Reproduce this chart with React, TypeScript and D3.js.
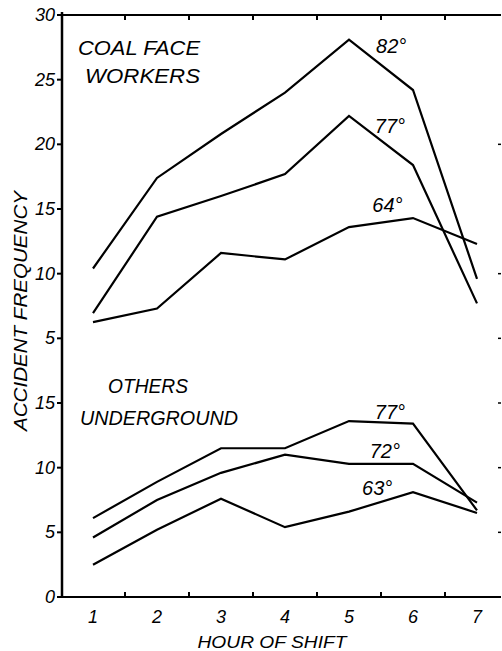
import React from "react";
import * as d3 from "d3";

const hours = [1, 2, 3, 4, 5, 6, 7];

// Upper panel: coal face workers
const coal82 = [10.4, 17.4, 20.8, 24.0, 28.1, 24.2, 9.6];
const coal77 = [6.95, 14.4, 16.0, 17.7, 22.2, 18.4, 7.7];
const coal64 = [6.25, 7.3, 11.6, 11.1, 13.6, 14.3, 12.3];

// Lower panel: others underground
const other77 = [6.1, 8.9, 11.5, 11.5, 13.6, 13.4, 6.7];
const other72 = [4.6, 7.5, 9.6, 11.0, 10.3, 10.3, 7.3];
const other63 = [2.5, 5.2, 7.6, 5.4, 6.6, 8.1, 6.5];

// y tick positions (combined stacked scale) and their printed labels
const yTickPos = [0, 5, 10, 15, 20, 25, 30, 35, 40, 45];
const yTickLabels = ["0", "5", "10", "15", "5", "10", "15", "20", "25", "30"];
const rightTickPos = [5, 10, 15, 20, 25, 35];
const xMidTicks = [1.5, 2.5, 3.5, 4.5, 5.5, 6.5];

const upperOffset = 15;

const seriesUpper = [
  { label: "82°", values: coal82, lx: 5.66, ly: 27.1 },
  { label: "77°", values: coal77, lx: 5.64, ly: 20.9 },
  { label: "64°", values: coal64, lx: 5.6, ly: 14.8 },
];
const seriesLower = [
  { label: "77°", values: other77, lx: 5.64, ly: 13.8 },
  { label: "72°", values: other72, lx: 5.56, ly: 10.75 },
  { label: "63°", values: other63, lx: 5.44, ly: 7.9 },
];

export default function App() {
  const W = 502;
  const H = 651;
  const x = d3.scaleLinear().domain([1, 7]).range([93, 477]);
  const y = d3.scaleLinear().domain([0, 45]).range([597, 15]);
  const left = 62;
  const right = 501;
  const top = y(45);
  const bottom = y(0);

  const line = (offset: number) =>
    d3
      .line<number>()
      .x((_, i) => x(hours[i]))
      .y((d) => y(d + offset));

  const font = "'Liberation Sans', 'DejaVu Sans', sans-serif";

  return (
    <svg
      width={W}
      height={H}
      style={{ position: "absolute", left: 0, top: 0, background: "#fff" }}
      fontFamily={font}
      fontStyle="italic"
    >
      <rect x={0} y={0} width={W} height={H} fill="#fff" />
      {/* axes */}
      <line x1={left} y1={top - 3} x2={left} y2={bottom + 1} stroke="#000" strokeWidth={2.5} />
      <line x1={left} y1={top} x2={right} y2={top} stroke="#000" strokeWidth={2} />
      <line x1={left} y1={bottom} x2={right} y2={bottom} stroke="#000" strokeWidth={2} />
      {/* left ticks */}
      {yTickPos.map((p, i) => (
        <g key={"yt" + i}>
          <line x1={left - 5} x2={left} y1={y(p)} y2={y(p)} stroke="#000" strokeWidth={2} />
          <text
            x={left - 7}
            y={y(p) + 6}
            textAnchor="end"
            fontSize={18}
            fill="#000"
          >
            {yTickLabels[i]}
          </text>
        </g>
      ))}
      {/* right tiny ticks */}
      {rightTickPos.map((p, i) => (
        <line key={"rt" + i} x1={right - 3} x2={right} y1={y(p)} y2={y(p)} stroke="#000" strokeWidth={1.5} />
      ))}
      {/* top and bottom mid ticks */}
      {xMidTicks.map((h, i) => (
        <g key={"xt" + i}>
          <line x1={x(h)} x2={x(h)} y1={top} y2={top + 5} stroke="#000" strokeWidth={2} />
          <line x1={x(h)} x2={x(h)} y1={bottom} y2={bottom - 5} stroke="#000" strokeWidth={2} />
        </g>
      ))}
      {/* x labels */}
      {hours.map((h) => (
        <text key={"xl" + h} x={x(h)} y={623} textAnchor="middle" fontSize={18} fill="#000">
          {h}
        </text>
      ))}
      <text x={272} y={648} textAnchor="middle" fontSize={17} textLength={149} lengthAdjust="spacingAndGlyphs" fill="#000">
        HOUR OF SHIFT
      </text>
      <text
        transform={`translate(27, 311) rotate(-90)`}
        textAnchor="middle"
        fontSize={18}
        textLength={240}
        lengthAdjust="spacingAndGlyphs"
        fill="#000"
      >
        ACCIDENT FREQUENCY
      </text>
      {/* panel titles */}
      <text x={78} y={55} fontSize={21} textLength={122} lengthAdjust="spacingAndGlyphs" fill="#000">
        COAL FACE
      </text>
      <text x={85} y={83} fontSize={21} textLength={115} lengthAdjust="spacingAndGlyphs" fill="#000">
        WORKERS
      </text>
      <text x={108} y={393} fontSize={20} textLength={80} lengthAdjust="spacingAndGlyphs" fill="#000">
        OTHERS
      </text>
      <text x={80} y={425} fontSize={20} textLength={158} lengthAdjust="spacingAndGlyphs" fill="#000">
        UNDERGROUND
      </text>
      {/* series */}
      {seriesUpper.map((s, i) => (
        <g key={"su" + i}>
          <path d={line(upperOffset)(s.values) || ""} fill="none" stroke="#000" strokeWidth={2.2} />
          <text x={x(s.lx)} y={y(s.ly + upperOffset)} textAnchor="middle" fontSize={20} fill="#000">
            {s.label}
          </text>
        </g>
      ))}
      {seriesLower.map((s, i) => (
        <g key={"sl" + i}>
          <path d={line(0)(s.values) || ""} fill="none" stroke="#000" strokeWidth={2.2} />
          <text x={x(s.lx)} y={y(s.ly)} textAnchor="middle" fontSize={20} fill="#000">
            {s.label}
          </text>
        </g>
      ))}
    </svg>
  );
}
